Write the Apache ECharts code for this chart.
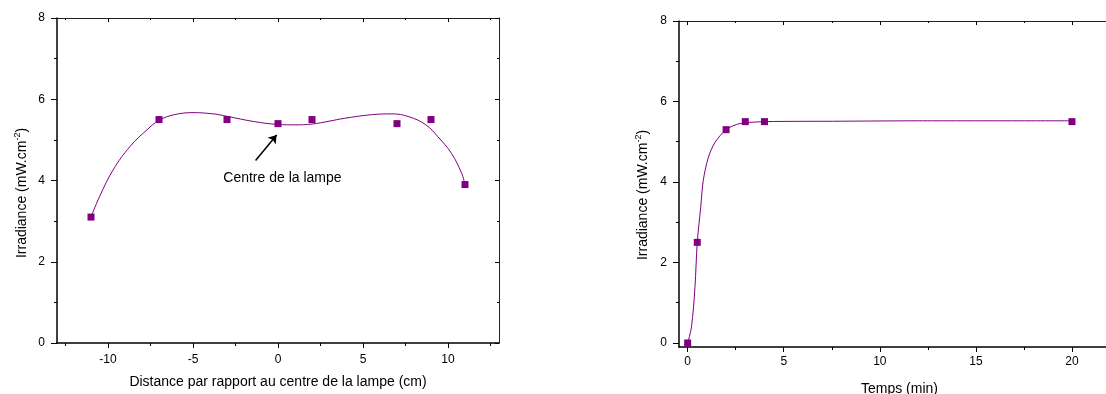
<!DOCTYPE html>
<html>
<head>
<meta charset="utf-8">
<script src="https://cdn.jsdelivr.net/npm/echarts@6/dist/echarts.min.js"></script>
<style>
html,body{margin:0;padding:0;background:#fff;}
#c{width:1106px;height:394px;}
</style>
</head>
<body>
<div id="c"></div>
<script>
// ---- Left chart: irradiance vs distance ----
const leftX = [-11, -7, -3, 0, 2, 7, 9, 11];
const leftY = [3.1, 5.5, 5.5, 5.4, 5.5, 5.4, 5.5, 3.9];
// fitted curve
const leftCurveX = [-11, -10.5, -9.7, -8.7, -7.7, -7, -6.1, -5, -3.8, -3, -1.4, 0, 1, 2, 3, 3.9, 5.5, 6.7, 7.7, 8.7, 9.4, 10.2, 10.8, 11];
const leftCurveY = [3.1, 3.6, 4.26, 4.84, 5.25, 5.48, 5.62, 5.67, 5.64, 5.58, 5.45, 5.38, 5.37, 5.39, 5.46, 5.53, 5.62, 5.64, 5.57, 5.37, 5.08, 4.67, 4.18, 3.9];
const leftXTicks = [-10, -5, 0, 5, 10];
const leftXMinor = [-12.5, -7.5, -2.5, 2.5, 7.5, 12.5];
const leftYTicks = [0, 2, 4, 6, 8];
const leftYMinor = [1, 3, 5, 7];

// ---- Right chart: irradiance vs time ----
const rightX = [0, 0.5, 2, 3, 4, 20];
const rightY = [0, 2.5, 5.3, 5.5, 5.5, 5.5];
const rightCurveX = [0, 0.2, 0.38, 0.5, 0.68, 0.81, 1.07, 1.42, 2, 2.55, 3, 4, 8, 12, 20];
const rightCurveY = [0, 0.4, 1.38, 2.5, 3.37, 4.03, 4.6, 4.98, 5.3, 5.43, 5.47, 5.5, 5.51, 5.52, 5.52];
const rightXTicks = [0, 5, 10, 15, 20];
const rightXMinor = [2.5, 7.5, 12.5, 17.5, 22.5];
const rightYTicks = [0, 2, 4, 6, 8];
const rightYMinor = [1, 3, 5, 7];

const FONT = 'Liberation Sans, Arial, sans-serif';
const PURPLE = '#800080';
const zip = (a, b) => a.map((v, i) => [v, b[i]]);

function mkAxis(gridIndex, position, min, max, ticks, o) {
  o = o || {};
  const ax = {
    type: 'value', gridIndex: gridIndex, position: position, min: min, max: max,
    axisLine: { show: o.line !== false, onZero: false, lineStyle: { color: o.lineColor || '#000', width: o.lineWidth || 1.5 } },
    axisTick: { show: true, inside: !!o.inside, length: o.len || 5, customValues: ticks, lineStyle: { color: '#000', width: 1 } },
    axisLabel: { show: !!o.labels, margin: o.margin || 12, color: '#000', fontSize: 12, fontFamily: FONT },
    splitLine: { show: false },
    minorTick: { show: false }
  };
  if (o.labels) ax.axisLabel.customValues = ticks;
  if (o.name) {
    ax.name = o.name;
    ax.nameLocation = 'middle';
    ax.nameGap = o.nameGap;
    ax.nameTextStyle = { color: '#000', fontSize: 14, fontFamily: FONT };
  }
  return ax;
}

const xAxes = [
  // left grid
  mkAxis(0, 'bottom', -13, 13, leftXTicks, { labels: true, margin: 11, name: 'Distance par rapport au centre de la lampe (cm)', nameGap: 32 }),
  mkAxis(0, 'bottom', -13, 13, leftXMinor, { line: false, len: 3 }),
  mkAxis(0, 'top', -13, 13, leftXTicks, { inside: true, len: 4, lineWidth: 1, lineColor: '#222' }),
  mkAxis(0, 'top', -13, 13, leftXMinor, { inside: true, len: 2, line: false }),
  // right grid
  mkAxis(1, 'bottom', -0.45, 22.5, rightXTicks, { labels: true, margin: 9, name: 'Temps (min)', nameGap: 35 }),
  mkAxis(1, 'bottom', -0.45, 22.5, rightXMinor, { line: false, len: 3 }),
  mkAxis(1, 'top', -0.45, 22.5, rightXTicks, { inside: true, len: 4, lineWidth: 1, lineColor: '#222' }),
  mkAxis(1, 'top', -0.45, 22.5, rightXMinor, { inside: true, len: 2, line: false })
];
const yAxes = [
  mkAxis(0, 'left', 0, 8, leftYTicks, { labels: true, margin: 12, len: 6 }),
  mkAxis(0, 'left', 0, 8, leftYMinor, { line: false, len: 3 }),
  mkAxis(0, 'right', 0, 8, leftYTicks, { inside: true, len: 4, lineWidth: 1, lineColor: '#222' }),
  mkAxis(0, 'right', 0, 8, leftYMinor, { inside: true, len: 2, line: false }),
  mkAxis(1, 'left', -0.1, 8, rightYTicks, { labels: true, margin: 12, len: 6 }),
  mkAxis(1, 'left', -0.1, 8, rightYMinor, { line: false, len: 3 }),
  mkAxis(1, 'right', -0.1, 8, rightYTicks, { inside: true, len: 4, lineWidth: 1, lineColor: '#222' }),
  mkAxis(1, 'right', -0.1, 8, rightYMinor, { inside: true, len: 2, line: false })
];

const yTitle = (x, y) => ({
  type: 'text', x: x, y: y, rotation: Math.PI / 2, silent: true,
  style: {
    text: '{a|Irradiance (mW.cm}{s|-2}{a|)}',
    align: 'center', verticalAlign: 'middle', fill: '#000',
    rich: {
      a: { fontSize: 14, fontFamily: FONT, fill: '#000', lineHeight: 18 },
      s: { fontSize: 9, fontFamily: FONT, fill: '#000', verticalAlign: 'top', lineHeight: 9 }
    }
  }
});

const option = {
  animation: false,
  backgroundColor: '#fff',
  grid: [
    { left: 57, top: 18, width: 442, height: 325, outerBoundsMode: 'none', containLabel: false },
    { left: 679, top: 21, width: 441, height: 326, outerBoundsMode: 'none', containLabel: false }
  ],
  xAxis: xAxes,
  yAxis: yAxes,
  graphic: [yTitle(22, 193), yTitle(643, 195)],
  series: [
    {
      type: 'line', xAxisIndex: 0, yAxisIndex: 0, data: zip(leftCurveX, leftCurveY),
      showSymbol: false, smooth: 0.4, lineStyle: { color: PURPLE, width: 1 }, z: 2
    },
    {
      type: 'scatter', xAxisIndex: 0, yAxisIndex: 0, data: zip(leftX, leftY),
      symbol: 'rect', symbolSize: 7, itemStyle: { color: PURPLE, opacity: 1 }, z: 3,
      markLine: {
        silent: true, symbol: ['none', 'arrow'], symbolSize: 8,
        lineStyle: { color: '#000', width: 1.5, type: 'solid' },
        label: { show: false },
        data: [[{ coord: [-1.32, 4.49] }, { coord: [-0.08, 5.12] }]]
      },
      markPoint: {
        silent: true, symbol: 'circle', symbolSize: 0,
        label: { show: true, position: 'inside', formatter: 'Centre de la lampe', color: '#000', fontSize: 14, fontFamily: FONT },
        data: [{ coord: [0.26, 4.06] }]
      }
    },
    {
      type: 'line', xAxisIndex: 4, yAxisIndex: 4, data: zip(rightCurveX, rightCurveY),
      showSymbol: false, smooth: 0.3, lineStyle: { color: PURPLE, width: 1 }, z: 2
    },
    {
      type: 'scatter', xAxisIndex: 4, yAxisIndex: 4, data: zip(rightX, rightY),
      symbol: 'rect', symbolSize: 7, itemStyle: { color: PURPLE, opacity: 1 }, z: 3
    }
  ]
};

const chart = echarts.init(document.getElementById('c'), null, { renderer: 'canvas' });
chart.setOption(option);
</script>
</body>
</html>
